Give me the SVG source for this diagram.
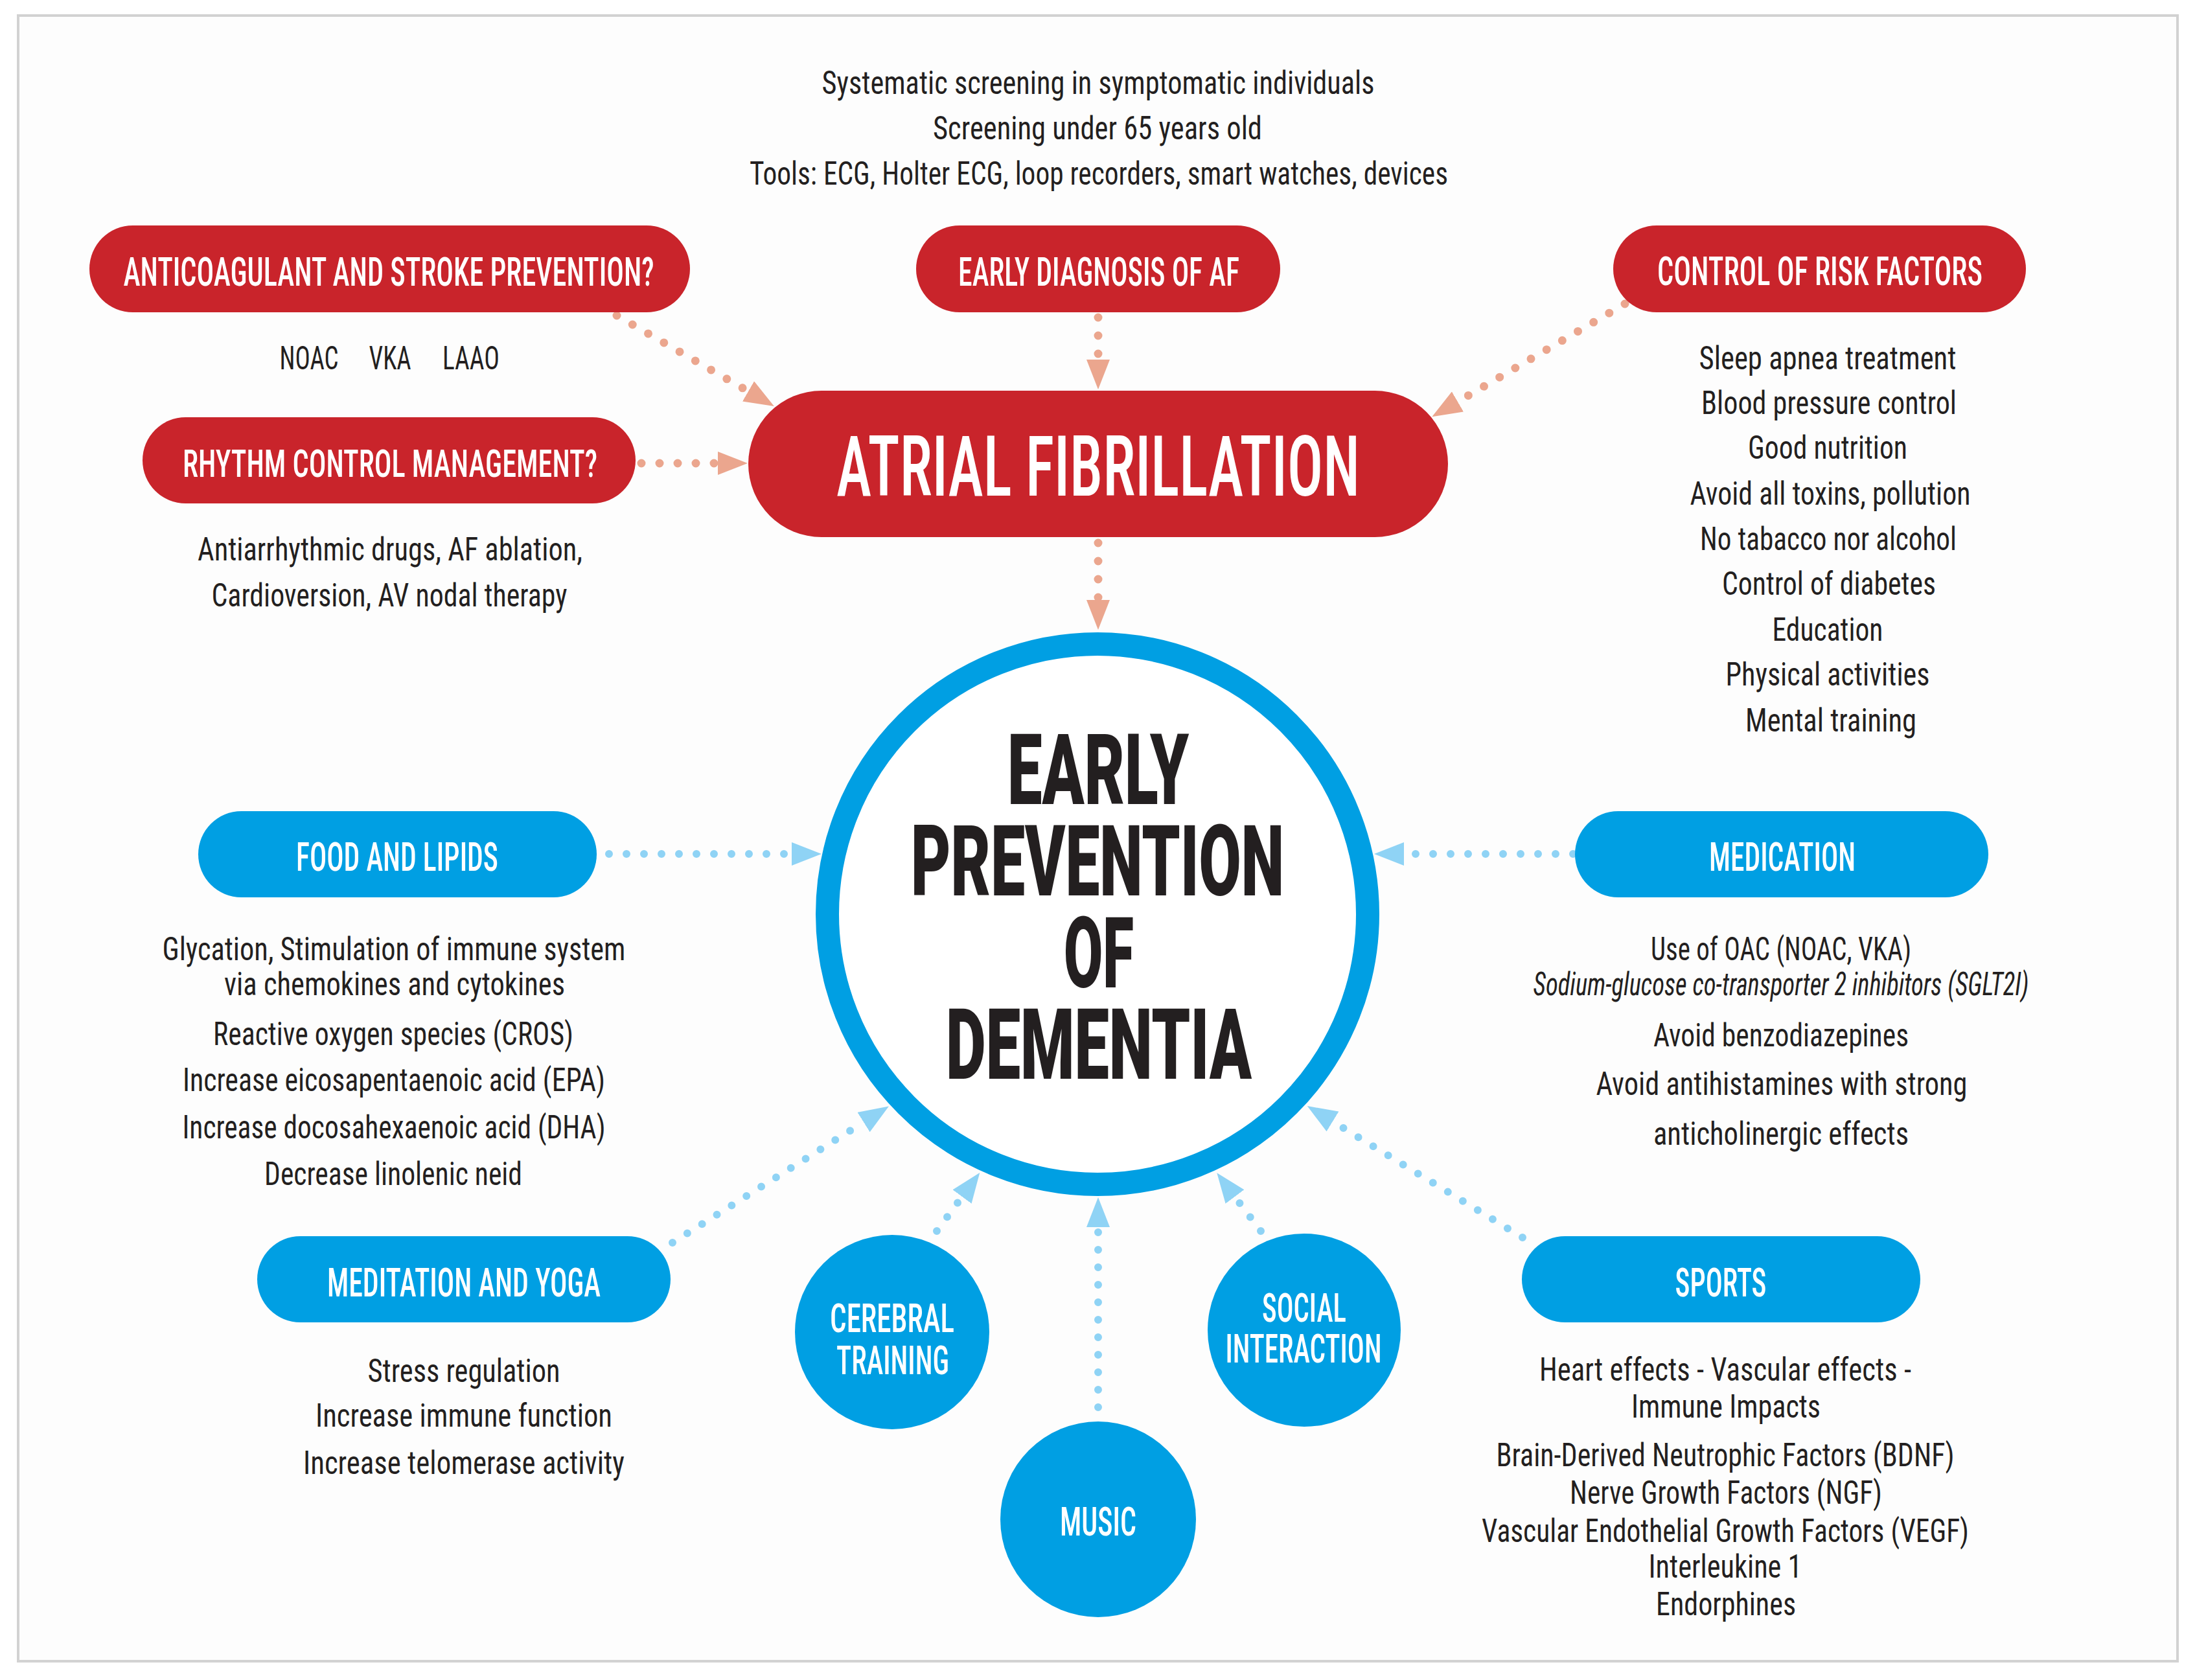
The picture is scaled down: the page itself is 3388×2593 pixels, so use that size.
<svg xmlns="http://www.w3.org/2000/svg" width="3388" height="2593" viewBox="0 0 3388 2593">
<style>
.red{fill:#C9242B}
.blue{fill:#009FE3}
.pl{font-family:"Roboto Condensed","Liberation Sans Narrow","Roboto",sans-serif;font-weight:500;fill:#ffffff;text-anchor:middle}
.bd{font-family:"Roboto Condensed","Liberation Sans Narrow","Roboto",sans-serif;font-weight:400;fill:#231F20;text-anchor:middle;font-size:50px}
.dm{font-family:"Roboto","Liberation Sans",sans-serif;font-weight:900;fill:#231F20;text-anchor:middle;font-size:152px}
.rc{fill:none;stroke:#EBA68E;stroke-width:13;stroke-linecap:round;stroke-dasharray:0 28}
.bc{fill:none;stroke:#8FD3F5;stroke-width:12;stroke-linecap:round;stroke-dasharray:0 27}
</style>
<defs>
<marker id="ar" markerUnits="userSpaceOnUse" viewBox="0 -18 46 36" markerWidth="46" markerHeight="36" refX="0" refY="0" orient="auto"><path d="M0,-18 L46,0 L0,18 z" fill="#EBA68E"/></marker>
<marker id="ab" markerUnits="userSpaceOnUse" viewBox="0 -18 46 36" markerWidth="46" markerHeight="36" refX="0" refY="0" orient="auto"><path d="M0,-18 L46,0 L0,18 z" fill="#8FD3F5"/></marker>
</defs>
<rect x="0" y="0" width="3388" height="2593" fill="#ffffff"/>
<rect x="28" y="24" width="3333" height="2540" fill="#FDFDFD" stroke="#D2D2D2" stroke-width="4"/>

<g id="connectors">
<line class="rc" x1="952" y1="487" x2="1155" y2="604" marker-end="url(#ar)"/>
<line class="rc" x1="1695" y1="490" x2="1695" y2="555" marker-end="url(#ar)"/>
<line class="rc" x1="2508" y1="469" x2="2250" y2="620" marker-end="url(#ar)"/>
<line class="rc" x1="990" y1="715" x2="1108" y2="715" marker-end="url(#ar)"/>
<line class="rc" x1="1695" y1="838" x2="1695" y2="926" marker-end="url(#ar)"/>
<line class="bc" x1="940" y1="1318" x2="1222" y2="1318" marker-end="url(#ab)"/>
<line class="bc" x1="2428" y1="1318" x2="2167" y2="1318" marker-end="url(#ab)"/>
<line class="bc" x1="1038" y1="1918" x2="1333" y2="1732" marker-end="url(#ab)"/>
<line class="bc" x1="1446" y1="1900" x2="1485" y2="1847" marker-end="url(#ab)"/>
<line class="bc" x1="1695" y1="2172" x2="1695" y2="1894" marker-end="url(#ab)"/>
<line class="bc" x1="1946" y1="1900" x2="1906" y2="1847" marker-end="url(#ab)"/>
<line class="bc" x1="2350" y1="1910" x2="2057" y2="1731" marker-end="url(#ab)"/>
</g>

<g id="screening-notes">
<text class="bd" x="1695" y="145" textLength="853" lengthAdjust="spacingAndGlyphs">Systematic screening in symptomatic individuals</text>
<text class="bd" x="1694" y="215" textLength="508" lengthAdjust="spacingAndGlyphs">Screening under 65 years old</text>
<text class="bd" x="1696" y="285" textLength="1078" lengthAdjust="spacingAndGlyphs">Tools: ECG, Holter ECG, loop recorders, smart watches, devices</text>
</g>

<g id="anticoagulant">
<rect class="red" x="138" y="348" width="927" height="134" rx="67"/>
<text class="pl" x="600" y="441" font-size="62" textLength="819" lengthAdjust="spacingAndGlyphs">ANTICOAGULANT AND STROKE PREVENTION?</text>
<text class="bd" x="477" y="570" textLength="91" lengthAdjust="spacingAndGlyphs">NOAC</text>
<text class="bd" x="602" y="570" textLength="65" lengthAdjust="spacingAndGlyphs">VKA</text>
<text class="bd" x="727" y="570" textLength="88" lengthAdjust="spacingAndGlyphs">LAAO</text>
</g>

<g id="early-diagnosis">
<rect class="red" x="1414" y="348" width="562" height="134" rx="67"/>
<text class="pl" x="1696" y="441" font-size="62" textLength="434" lengthAdjust="spacingAndGlyphs">EARLY DIAGNOSIS OF AF</text>
</g>

<g id="control-risk">
<rect class="red" x="2490" y="348" width="637" height="134" rx="67"/>
<text class="pl" x="2809" y="440" font-size="62" textLength="502" lengthAdjust="spacingAndGlyphs">CONTROL OF RISK FACTORS</text>
<text class="bd" x="2821" y="570" textLength="397" lengthAdjust="spacingAndGlyphs">Sleep apnea treatment</text>
<text class="bd" x="2823" y="639" textLength="394" lengthAdjust="spacingAndGlyphs">Blood pressure control</text>
<text class="bd" x="2821" y="708" textLength="246" lengthAdjust="spacingAndGlyphs">Good nutrition</text>
<text class="bd" x="2825" y="779" textLength="433" lengthAdjust="spacingAndGlyphs">Avoid all toxins, pollution</text>
<text class="bd" x="2822" y="849" textLength="396" lengthAdjust="spacingAndGlyphs">No tabacco nor alcohol</text>
<text class="bd" x="2823" y="918" textLength="330" lengthAdjust="spacingAndGlyphs">Control of diabetes</text>
<text class="bd" x="2821" y="989" textLength="171" lengthAdjust="spacingAndGlyphs">Education</text>
<text class="bd" x="2821" y="1058" textLength="315" lengthAdjust="spacingAndGlyphs">Physical activities</text>
<text class="bd" x="2826" y="1129" textLength="264" lengthAdjust="spacingAndGlyphs">Mental training</text>
</g>

<g id="rhythm-control">
<rect class="red" x="220" y="644" width="761" height="133" rx="66.5"/>
<text class="pl" x="602" y="736" font-size="60" textLength="640" lengthAdjust="spacingAndGlyphs">RHYTHM CONTROL MANAGEMENT?</text>
<text class="bd" x="602" y="865" textLength="594" lengthAdjust="spacingAndGlyphs">Antiarrhythmic drugs, AF ablation,</text>
<text class="bd" x="601" y="936" textLength="549" lengthAdjust="spacingAndGlyphs">Cardioversion, AV nodal therapy</text>
</g>

<g id="atrial-fibrillation">
<rect class="red" x="1155" y="603" width="1080" height="226" rx="113"/>
<text class="pl" x="1695" y="765" font-size="129" textLength="808" lengthAdjust="spacingAndGlyphs">ATRIAL FIBRILLATION</text>
</g>

<g id="dementia">
<circle cx="1694" cy="1411" r="417" fill="#ffffff" stroke="#009FE3" stroke-width="36"/>
<text class="dm"><tspan x="1695" y="1241" textLength="280" lengthAdjust="spacingAndGlyphs">EARLY</tspan><tspan x="1694" y="1382" textLength="576" lengthAdjust="spacingAndGlyphs">PREVENTION</tspan><tspan x="1696" y="1524" textLength="108" lengthAdjust="spacingAndGlyphs">OF</tspan><tspan x="1696" y="1665" textLength="472" lengthAdjust="spacingAndGlyphs">DEMENTIA</tspan></text>
</g>

<g id="food-lipids">
<rect class="blue" x="306" y="1252" width="615" height="133" rx="66.5"/>
<text class="pl" x="613" y="1344" font-size="62" textLength="312" lengthAdjust="spacingAndGlyphs">FOOD AND LIPIDS</text>
<text class="bd" x="608" y="1482" textLength="715" lengthAdjust="spacingAndGlyphs">Glycation, Stimulation of immune system</text>
<text class="bd" x="609" y="1536" textLength="526" lengthAdjust="spacingAndGlyphs">via chemokines and cytokines</text>
<text class="bd" x="607" y="1613" textLength="556" lengthAdjust="spacingAndGlyphs">Reactive oxygen species (CROS)</text>
<text class="bd" x="608" y="1684" textLength="652" lengthAdjust="spacingAndGlyphs">Increase eicosapentaenoic acid (EPA)</text>
<text class="bd" x="608" y="1757" textLength="653" lengthAdjust="spacingAndGlyphs">Increase docosahexaenoic acid (DHA)</text>
<text class="bd" x="607" y="1829" textLength="398" lengthAdjust="spacingAndGlyphs">Decrease linolenic neid</text>
</g>

<g id="medication">
<rect class="blue" x="2431" y="1252" width="638" height="133" rx="66.5"/>
<text class="pl" x="2751" y="1344" font-size="62" textLength="226" lengthAdjust="spacingAndGlyphs">MEDICATION</text>
<text class="bd" x="2749" y="1482" textLength="402" lengthAdjust="spacingAndGlyphs">Use of OAC (NOAC, VKA)</text>
<text class="bd" x="2749" y="1536" font-size="42" font-style="italic" textLength="765" lengthAdjust="spacingAndGlyphs">Sodium-glucose co-transporter 2 inhibitors (SGLT2I)</text>
<text class="bd" x="2749" y="1615" textLength="394" lengthAdjust="spacingAndGlyphs">Avoid benzodiazepines</text>
<text class="bd" x="2750" y="1690" textLength="573" lengthAdjust="spacingAndGlyphs">Avoid antihistamines with strong</text>
<text class="bd" x="2749" y="1767" textLength="394" lengthAdjust="spacingAndGlyphs">anticholinergic effects</text>
</g>

<g id="meditation-yoga">
<rect class="blue" x="397" y="1908" width="638" height="133" rx="66.5"/>
<text class="pl" x="716" y="2001" font-size="62" textLength="422" lengthAdjust="spacingAndGlyphs">MEDITATION AND YOGA</text>
<text class="bd" x="716" y="2133" textLength="297" lengthAdjust="spacingAndGlyphs">Stress regulation</text>
<text class="bd" x="716" y="2202" textLength="458" lengthAdjust="spacingAndGlyphs">Increase immune function</text>
<text class="bd" x="716" y="2275" textLength="496" lengthAdjust="spacingAndGlyphs">Increase telomerase activity</text>
</g>

<g id="sports">
<rect class="blue" x="2349" y="1908" width="615" height="133" rx="66.5"/>
<text class="pl" x="2656" y="2001" font-size="62" textLength="141" lengthAdjust="spacingAndGlyphs">SPORTS</text>
<text class="bd" x="2663" y="2131" textLength="574" lengthAdjust="spacingAndGlyphs">Heart effects - Vascular effects -</text>
<text class="bd" x="2664" y="2188" textLength="292" lengthAdjust="spacingAndGlyphs">Immune Impacts</text>
<text class="bd" x="2663" y="2263" textLength="707" lengthAdjust="spacingAndGlyphs">Brain-Derived Neutrophic Factors (BDNF)</text>
<text class="bd" x="2664" y="2321" textLength="482" lengthAdjust="spacingAndGlyphs">Nerve Growth Factors (NGF)</text>
<text class="bd" x="2663" y="2380" textLength="752" lengthAdjust="spacingAndGlyphs">Vascular Endothelial Growth Factors (VEGF)</text>
<text class="bd" x="2663" y="2435" textLength="237" lengthAdjust="spacingAndGlyphs">Interleukine 1</text>
<text class="bd" x="2664" y="2493" textLength="216" lengthAdjust="spacingAndGlyphs">Endorphines</text>
</g>

<g id="cerebral-training">
<circle class="blue" cx="1377" cy="2056" r="150"/>
<text class="pl" font-size="62"><tspan x="1377" y="2056" textLength="192" lengthAdjust="spacingAndGlyphs">CEREBRAL</tspan><tspan x="1378" y="2121" textLength="174" lengthAdjust="spacingAndGlyphs">TRAINING</tspan></text>
</g>

<g id="music">
<circle class="blue" cx="1695" cy="2345" r="151"/>
<text class="pl" x="1695" y="2370" font-size="62" textLength="118" lengthAdjust="spacingAndGlyphs">MUSIC</text>
</g>

<g id="social-interaction">
<circle class="blue" cx="2013" cy="2053" r="149"/>
<text class="pl" font-size="62"><tspan x="2013" y="2040" textLength="130" lengthAdjust="spacingAndGlyphs">SOCIAL</tspan><tspan x="2012" y="2103" textLength="241" lengthAdjust="spacingAndGlyphs">INTERACTION</tspan></text>
</g>
</svg>
